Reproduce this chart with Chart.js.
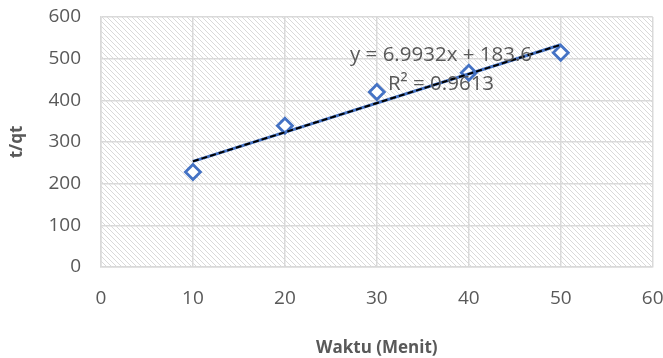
<!DOCTYPE html>
<html>
<head>
<meta charset="utf-8">
<script src="https://cdn.jsdelivr.net/npm/chart.js@4/dist/chart.umd.min.js"></script>
<style>
  html, body { margin: 0; padding: 0; background: #fff; }
  #wrap { width: 663px; height: 358px; }
</style>
</head>
<body>
<div id="wrap"><canvas id="chart" width="663" height="358"></canvas></div>
<script>
// data
const waktu = [10, 20, 30, 40, 50];
const tqt = [228, 339, 420, 466, 514];
// trendline ends (x = 10 and x = 50)
const trendX = [10, 50];
const trendY = [253.5, 533.3];
const trendText = ['y = 6.9932x + 183.6', 'R\u00b2 = 0.9613'];

const FONT = "'Open Sans', 'DejaVu Sans', sans-serif";
const GREY = '#595959';

// hatched plot area, one-pixel diagonal lines
function makeHatch() {
    const c = document.createElement('canvas');
    c.width = 5; c.height = 5;
    const g = c.getContext('2d');
    g.fillStyle = '#d9d9d9';
    for (let i = 0; i < 5; i++) g.fillRect(i, i, 1, 1);
    return g.createPattern(c, 'repeat');
}

const hatchPlugin = {
    id: 'hatch',
    beforeDraw(chart) {
        const a = chart.chartArea;
        const ctx = chart.ctx;
        ctx.save();
        ctx.fillStyle = makeHatch();
        ctx.fillRect(a.left, a.top, a.right - a.left, a.bottom - a.top);
        ctx.restore();
    }
};

const trendLabelPlugin = {
    id: 'trendLabel',
    afterDatasetsDraw(chart) {
        const ctx = chart.ctx;
        ctx.save();
        ctx.fillStyle = GREY;
        ctx.font = '20.5px ' + FONT;
        ctx.textAlign = 'center';
        ctx.textBaseline = 'middle';
        ctx.fillText(trendText[0], 441, 55);
        ctx.fillText(trendText[1], 441, 84);
        ctx.restore();
    }
};

new Chart(document.getElementById('chart'), {
    type: 'scatter',
    data: {
        datasets: [
            {
                label: 't/qt',
                data: waktu.map((x, i) => ({ x: x, y: tqt[i] })),
                pointStyle: 'rectRot',
                pointRadius: 7.5,
                pointBorderWidth: 2.8,
                borderColor: '#4472c4',
                backgroundColor: '#fff',
                showLine: false,
                order: 3
            },
            {
                label: 'trend',
                data: trendX.map((x, i) => ({ x: x, y: trendY[i] })),
                showLine: true,
                borderColor: '#4472c4',
                borderWidth: 3,
                pointRadius: 0,
                order: 2
            },
            {
                label: 'trend dash',
                data: trendX.map((x, i) => ({ x: x, y: trendY[i] })),
                showLine: true,
                borderColor: '#000',
                borderWidth: 2,
                borderDash: [6, 3],
                pointRadius: 0,
                order: 1
            }
        ]
    },
    options: {
        responsive: false,
        animation: false,
        layout: { padding: { top: 17, right: 10, left: 0, bottom: 0 } },
        plugins: {
            legend: { display: false },
            tooltip: { enabled: false }
        },
        scales: {
            x: {
                type: 'linear',
                min: 0, max: 60,
                ticks: { stepSize: 10, color: GREY, font: { family: FONT, size: 19 }, padding: 20 },
                grid: { color: '#d9d9d9', lineWidth: 1.5, drawTicks: false },
                border: { color: '#d9d9d9', width: 1.5 },
                title: { display: true, text: 'Waktu (Menit)', color: GREY, font: { family: FONT, size: 17, weight: 'bold' }, padding: { top: 14, bottom: 0 } },
                afterFit(s) { s.height = 91; s.paddingLeft = 0; s.paddingRight = 0; }
            },
            y: {
                min: 0, max: 600,
                ticks: { stepSize: 100, color: GREY, font: { family: FONT, size: 19 }, padding: 20 },
                grid: { color: '#d9d9d9', lineWidth: 1.5, drawTicks: false },
                border: { color: '#d9d9d9', width: 1.5 },
                title: { display: true, text: 't/qt', color: GREY, font: { family: FONT, size: 17, weight: 'bold' }, padding: { top: 7, bottom: 0 } },
                afterFit(s) { s.width = 101; s.paddingTop = 0; s.paddingBottom = 0; }
            }
        }
    },
    plugins: [hatchPlugin, trendLabelPlugin]
});
</script>
</body>
</html>
